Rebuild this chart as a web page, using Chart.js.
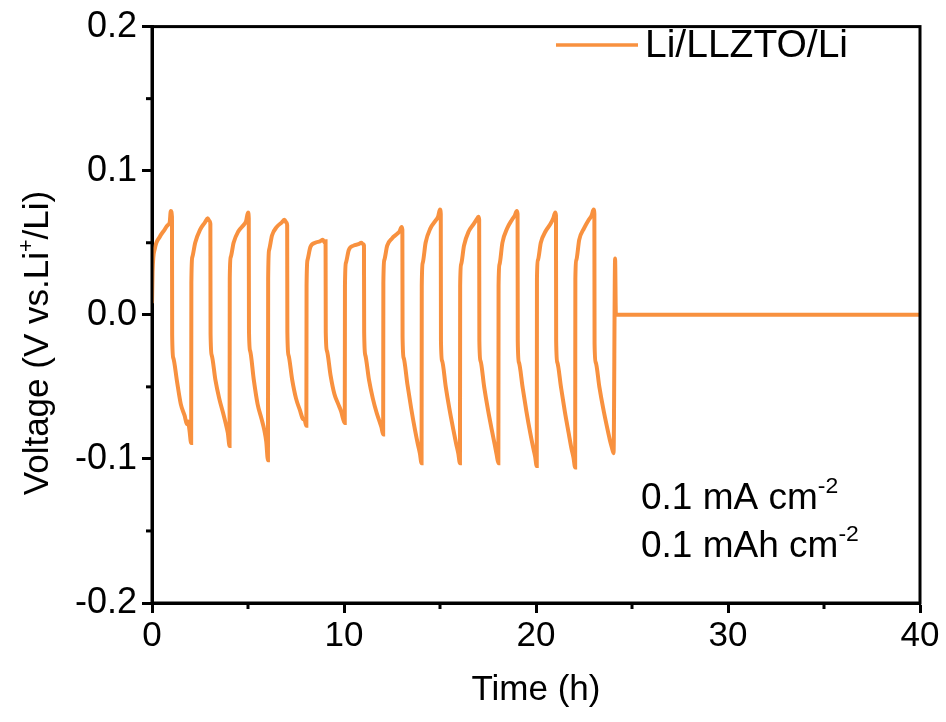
<!DOCTYPE html>
<html>
<head>
<meta charset="utf-8">
<script src="https://cdn.jsdelivr.net/npm/chart.js@4.4.1/dist/chart.umd.min.js"></script>
<style>
  html, body { margin: 0; padding: 0; background: #fff; }
  canvas { display: block; }
</style>
</head>
<body>
<canvas id="cycleChart" width="946" height="722"></canvas>
<script>
// time (h) and voltage (V), one line per charge/discharge cycle
const timeH = [
  0.00, 0.03, 0.15, 0.40, 0.65, 0.80, 0.92, 0.98, 1.04,  1.05, 1.11, 1.30, 1.50, 1.70, 1.82, 1.88, 1.95, 2.04,
  2.05, 2.10, 2.25, 2.50, 2.75, 2.90, 3.00, 3.04,  3.05, 3.11, 3.30, 3.50, 3.70, 3.85, 3.95, 4.04,
  4.05, 4.10, 4.25, 4.50, 4.75, 4.90, 5.00, 5.04,  5.05, 5.11, 5.30, 5.50, 5.70, 5.85, 5.95, 6.04,
  6.05, 6.10, 6.25, 6.50, 6.75, 6.90, 7.00, 7.04,  7.05, 7.11, 7.30, 7.50, 7.70, 7.85, 7.95, 8.04,
  8.05, 8.10, 8.25, 8.50, 8.75, 8.90, 9.00, 9.04,  9.05, 9.11, 9.30, 9.50, 9.70, 9.85, 9.95, 10.04,
  10.05, 10.10, 10.25, 10.50, 10.75, 10.90, 11.00, 11.04,  11.05, 11.11, 11.30, 11.50, 11.70, 11.85, 11.95, 12.04,
  12.05, 12.10, 12.25, 12.50, 12.75, 12.90, 13.00, 13.04,  13.05, 13.11, 13.30, 13.50, 13.70, 13.85, 13.95, 14.04,
  14.05, 14.10, 14.25, 14.50, 14.75, 14.90, 15.00, 15.04,  15.05, 15.11, 15.30, 15.50, 15.70, 15.85, 15.95, 16.04,
  16.05, 16.10, 16.25, 16.50, 16.75, 16.90, 17.00, 17.04,  17.05, 17.11, 17.30, 17.50, 17.70, 17.85, 17.95, 18.04,
  18.05, 18.10, 18.25, 18.50, 18.75, 18.90, 19.00, 19.04,  19.05, 19.11, 19.30, 19.50, 19.70, 19.85, 19.95, 20.04,
  20.05, 20.10, 20.25, 20.50, 20.75, 20.90, 21.00, 21.04,  21.05, 21.11, 21.30, 21.50, 21.70, 21.85, 21.95, 22.04,
  22.05, 22.10, 22.25, 22.50, 22.75, 22.90, 23.00, 23.04,  23.05, 23.11, 23.30, 23.50, 23.70, 23.85, 23.95, 24.04,
  24.12, 24.16, 40.00
];
const voltage = [
  0.008, 0.030, 0.046, 0.054, 0.059, 0.062, 0.064, 0.072, 0.068,  -0.014, -0.030, -0.046, -0.062, -0.070, -0.076, -0.074, -0.080, -0.089,
  0.022, 0.040, 0.050, 0.059, 0.064, 0.067, 0.065, 0.063,  -0.013, -0.028, -0.045, -0.058, -0.068, -0.076, -0.082, -0.091,
  0.025, 0.040, 0.050, 0.058, 0.062, 0.065, 0.071, 0.067,  -0.010, -0.025, -0.045, -0.062, -0.072, -0.080, -0.088, -0.101,
  0.025, 0.045, 0.055, 0.061, 0.064, 0.066, 0.064, 0.062,  -0.012, -0.028, -0.045, -0.058, -0.066, -0.072, -0.073, -0.077,
  0.020, 0.038, 0.047, 0.050, 0.051, 0.052, 0.050, 0.051,  -0.012, -0.025, -0.042, -0.055, -0.062, -0.067, -0.072, -0.075,
  0.020, 0.036, 0.045, 0.048, 0.049, 0.050, 0.049, 0.048,  -0.012, -0.028, -0.045, -0.058, -0.068, -0.074, -0.078, -0.083,
  0.022, 0.038, 0.048, 0.053, 0.056, 0.058, 0.061, 0.059,  -0.015, -0.030, -0.048, -0.065, -0.080, -0.090, -0.096, -0.103,
  0.020, 0.036, 0.050, 0.060, 0.065, 0.068, 0.073, 0.070,  -0.018, -0.032, -0.050, -0.066, -0.080, -0.090, -0.096, -0.103,
  0.020, 0.035, 0.048, 0.058, 0.063, 0.066, 0.068, 0.066,  -0.018, -0.032, -0.050, -0.066, -0.080, -0.090, -0.097, -0.103,
  0.020, 0.035, 0.050, 0.060, 0.066, 0.069, 0.072, 0.070,  -0.018, -0.033, -0.050, -0.067, -0.082, -0.092, -0.098, -0.105,
  0.025, 0.038, 0.050, 0.058, 0.063, 0.067, 0.071, 0.069,  -0.018, -0.033, -0.050, -0.067, -0.082, -0.093, -0.099, -0.106,
  0.025, 0.038, 0.052, 0.060, 0.066, 0.069, 0.073, 0.070,  -0.020, -0.033, -0.050, -0.065, -0.078, -0.087, -0.092, -0.096,
  0.039, 0.000, 0.000
];

const xTicks = [0, 10, 20, 30, 40];
const yTicks = [-0.2, -0.1, 0.0, 0.1, 0.2];
const xMinor = [5, 15, 25, 35];
const yMinor = [-0.15, -0.05, 0.05, 0.15];

const seriesName = "Li/LLZTO/Li";
const lineColor = "#F8913F";
const FONT = "'Liberation Sans', Arial, sans-serif";

// draw a string with superscript parts: [[text, isSup], ...]
function richWidth(ctx, parts, size) {
    let w = 0;
    parts.forEach(p => {
        ctx.font = (p[1] ? size * 0.62 : size) + "px " + FONT;
        w += ctx.measureText(p[0]).width;
    });
    return w;
}
function drawRich(ctx, parts, x, y, size) {
    ctx.textBaseline = "alphabetic";
    ctx.textAlign = "left";
    parts.forEach(p => {
        ctx.font = (p[1] ? size * 0.62 : size) + "px " + FONT;
        ctx.fillText(p[0], x, p[1] ? y - size * 0.42 : y);
        x += ctx.measureText(p[0]).width;
    });
}

const extrasPlugin = {
    id: "extras",
    afterDraw(chart) {
        const { ctx, chartArea: a } = chart;
        const xs = chart.scales.x, ys = chart.scales.y;
        ctx.save();
        ctx.strokeStyle = "#000";
        ctx.fillStyle = "#000";
        ctx.lineWidth = 3;
        ctx.strokeRect(a.left, a.top, a.right - a.left, a.bottom - a.top);

        // minor ticks
        yMinor.forEach(v => {
            const py = ys.getPixelForValue(v);
            ctx.beginPath(); ctx.moveTo(a.left - 6, py); ctx.lineTo(a.left, py); ctx.stroke();
        });
        xMinor.forEach(v => {
            const px = xs.getPixelForValue(v);
            ctx.beginPath(); ctx.moveTo(px, a.bottom); ctx.lineTo(px, a.bottom + 6); ctx.stroke();
        });

        // legend
        ctx.strokeStyle = lineColor;
        ctx.lineWidth = 3.5;
        ctx.beginPath(); ctx.moveTo(556, 45); ctx.lineTo(638, 45); ctx.stroke();
        ctx.font = "39px " + FONT;
        ctx.textBaseline = "middle";
        ctx.fillText(seriesName, 645, 46);

        // current density / capacity note
        drawRich(ctx, [["0.1 mA cm", false], ["-2", true]], 641, 509, 37);
        drawRich(ctx, [["0.1 mAh cm", false], ["-2", true]], 641, 557, 37);

        // y-axis title with superscript
        const yTitle = [["Voltage (V vs.Li", false], ["+", true], ["/Li)", false]];
        const w = richWidth(ctx, yTitle, 35);
        ctx.translate(48, 343);
        ctx.rotate(-Math.PI / 2);
        drawRich(ctx, yTitle, -w / 2, 0, 35);
        ctx.restore();
    }
};

new Chart(document.getElementById("cycleChart").getContext("2d"), {
    type: "line",
    data: {
        datasets: [{
            label: seriesName,
            data: timeH.map((t, i) => ({ x: t, y: voltage[i] })),
            borderColor: lineColor,
            borderWidth: 4,
            pointRadius: 0,
            fill: false,
            cubicInterpolationMode: "monotone"
        }]
    },
    options: {
        responsive: false,
        animation: false,
        devicePixelRatio: 1,
        layout: { padding: { top: 25, right: 26, left: 0, bottom: 0 } },
        plugins: { legend: { display: false }, tooltip: { enabled: false } },
        scales: {
            x: {
                type: "linear",
                min: 0, max: 40,
                afterFit: s => { s.height = 119; },
                afterBuildTicks: s => { s.ticks = xTicks.map(v => ({ value: v })); },
                ticks: { font: { family: FONT, size: 35 }, color: "#000", padding: 2, maxRotation: 0 },
                grid: { drawOnChartArea: false, tickLength: 10, tickWidth: 3, tickColor: "#000" },
                border: { color: "#000", width: 3 },
                title: {
                    display: true, text: "Time (h)", color: "#000",
                    font: { family: FONT, size: 35 }, padding: { top: 0, bottom: 11 }
                }
            },
            y: {
                min: -0.2, max: 0.2,
                afterFit: s => { s.width = 152; },
                afterBuildTicks: s => { s.ticks = yTicks.map(v => ({ value: v })); },
                ticks: {
                    font: { family: FONT, size: 36 }, color: "#000", padding: 5,
                    callback: v => v.toFixed(1)
                },
                grid: { drawOnChartArea: false, tickLength: 10, tickWidth: 3, tickColor: "#000" },
                border: { color: "#000", width: 3 }
            }
        }
    },
    plugins: [extrasPlugin]
});
</script>
</body>
</html>
